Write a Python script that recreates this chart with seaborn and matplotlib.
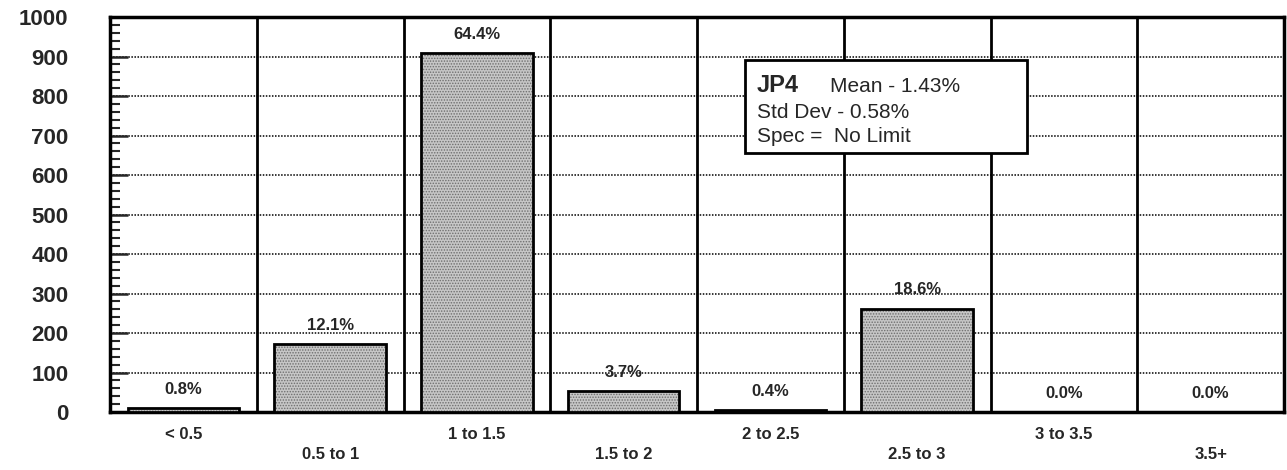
import matplotlib
matplotlib.use("Agg")
import matplotlib.pyplot as plt
import matplotlib.transforms as mtransforms
from matplotlib.patches import Rectangle
from matplotlib.ticker import MultipleLocator
import seaborn as sns

# Werte
categories = ["< 0.5", "0.5 to 1", "1 to 1.5", "1.5 to 2", "2 to 2.5", "2.5 to 3", "3 to 3.5", "3.5+"]
counts = [11, 171, 909, 52, 6, 262, 0, 0]
pct_labels = ["0.8%", "12.1%", "64.4%", "3.7%", "0.4%", "18.6%", "0.0%", "0.0%"]
y_ticks = [0, 100, 200, 300, 400, 500, 600, 700, 800, 900, 1000]

sns.set_style("white")
plt.rcParams["font.family"] = ["Liberation Sans", "DejaVu Sans"]
plt.rcParams["hatch.linewidth"] = 0.7

fig = plt.figure(figsize=(12.87, 4.70), dpi=100)
ax = fig.add_axes([0.0855, 0.1234, 0.9122, 0.8404])

# Rasterfuellung (Hatch-Farbe = Kantenfarbe), danach schwarzer Rahmen
sns.barplot(x=categories, y=counts, color="#c6c6c6", saturation=1, width=0.76,
            edgecolor="#6e6e6e", linewidth=0, hatch="......", ax=ax, zorder=3)
sns.barplot(x=categories, y=counts, fill=False, width=0.76,
            edgecolor="black", linewidth=2, ax=ax, zorder=4)

# Trennlinien zwischen den Klassen
for i in range(len(categories) - 1):
    ax.axvline(i + 0.5, color="black", lw=2, zorder=2)

ax.set_xlim(-0.5, len(categories) - 0.5)
ax.set_ylim(0, 1000)
ax.set_yticks(y_ticks)
ax.yaxis.set_minor_locator(MultipleLocator(20))
ax.yaxis.grid(True, which="major", color="black", linestyle=(0, (1, 1)), lw=1.1, zorder=1)
ax.set_axisbelow(True)

for s in ax.spines.values():
    s.set_visible(True)
    s.set_color("black")
    s.set_linewidth(2.5)

ax.tick_params(axis="y", which="major", direction="in", length=13, width=1.8,
               labelsize=16, pad=30, left=True)
ax.tick_params(axis="y", which="minor", direction="in", length=7, width=1.5, left=True)
ax.tick_params(axis="x", length=0, labelsize=12, pad=11)
for lab in ax.get_yticklabels():
    lab.set_fontweight("bold")

# Beschriftungen abwechselnd versetzt
offset = mtransforms.ScaledTranslation(0, -20 / 100, fig.dpi_scale_trans)
for i, lab in enumerate(ax.get_xticklabels()):
    lab.set_fontweight("bold")
    if i % 2 == 1:
        lab.set_transform(lab.get_transform() + offset)

ax.set_xlabel("")
ax.set_ylabel("")

ax.bar_label(ax.containers[1], labels=pct_labels, padding=8, fontsize=12, fontweight="bold")

# Info-Box
ax.add_patch(Rectangle((0.541, 0.656), 0.240, 0.235, transform=ax.transAxes,
                       facecolor="white", edgecolor="black", lw=2, zorder=5))
ax.text(0.551, 0.810, "JP4", transform=ax.transAxes, fontsize=17, fontweight="bold",
        va="baseline", zorder=6)
ax.text(0.613, 0.810, "Mean - 1.43%", transform=ax.transAxes, fontsize=15,
        va="baseline", zorder=6)
ax.text(0.551, 0.744, "Std Dev - 0.58%", transform=ax.transAxes, fontsize=15,
        va="baseline", zorder=6)
ax.text(0.551, 0.684, "Spec =  No Limit", transform=ax.transAxes, fontsize=15,
        va="baseline", zorder=6)

fig.savefig("out.png", dpi=100)
